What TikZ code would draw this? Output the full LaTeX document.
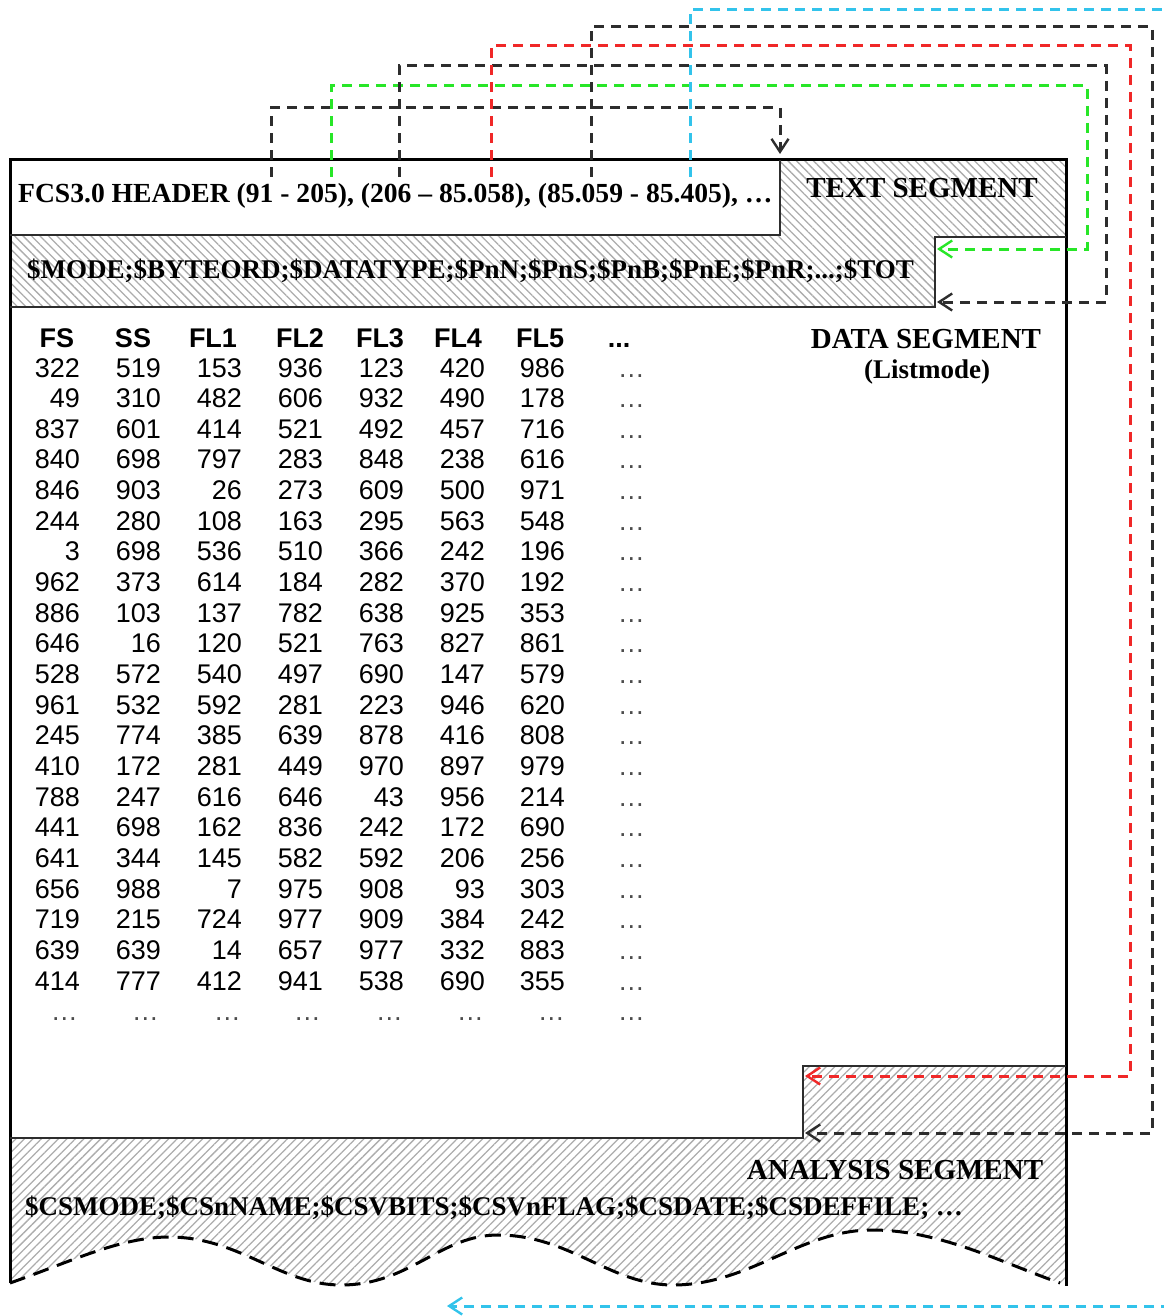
\documentclass[tikz,border=0pt]{standalone}
\usepackage{fontspec}
\setmainfont{Liberation Serif}
\newfontfamily\arialf{Liberation Sans}
\usetikzlibrary{arrows.meta,patterns.meta}
\definecolor{cgreen}{RGB}{40,230,40}
\definecolor{cred}{RGB}{240,40,40}
\definecolor{ccyan}{RGB}{50,195,235}
\definecolor{cdark}{RGB}{45,45,45}
\begin{document}
\begin{tikzpicture}[x=1pt,y=-1pt,
  conn/.style={line width=3pt, dash pattern=on 10pt off 7pt,
    -{Straight Barb[length=13pt,width=17pt,line width=2.4pt]}},
  frame/.style={line width=3pt, black},
  innerl/.style={line width=2pt, cdark},
  hatchA/.style={pattern={Lines[angle=-45,distance=6pt,line width=1.3pt]}, pattern color=gray!65},
  hatchB/.style={pattern={Lines[angle=45,distance=6pt,line width=1.3pt]}, pattern color=gray!65},
  lab/.style={font=\bfseries\fontsize{29}{32}\selectfont, inner sep=0pt},
  kw/.style={font=\bfseries\fontsize{27}{30}\selectfont, inner sep=0pt, anchor=west},
  num/.style={font=\arialf\fontsize{27}{30}\selectfont, inner sep=0pt, anchor=base east},
  ell/.style={text=black!70},
  hd/.style={font=\arialf\bfseries\fontsize{27}{30}\selectfont, inner sep=0pt, anchor=base},
]
\useasboundingbox (0,0) rectangle (1163,1316);

% hatched regions
\fill[hatchA] (780,160) -- (1066,160) -- (1066,237) -- (935,237) -- (935,307) -- (10,307) -- (10,235) -- (780,235) -- cycle;
\fill[hatchB] (803,1066) -- (1066,1066) -- (1066,1285) -- (1060,1283)
  .. controls (1000,1262) and (940,1230) .. (872,1230)
  .. controls (800,1230) and (750,1285) .. (673,1285)
  .. controls (610,1285) and (570,1235) .. (498,1235)
  .. controls (440,1235) and (410,1285) .. (341,1285)
  .. controls (280,1285) and (240,1237) .. (169,1237)
  .. controls (120,1237) and (70,1262) .. (10,1283)
  -- (10,1138) -- (803,1138) -- cycle;

% wavy bottom
\draw[line width=3pt, dash pattern=on 16pt off 9pt] (10,1283)
  .. controls (70,1262) and (120,1237) .. (169,1237)
  .. controls (240,1237) and (280,1285) .. (341,1285)
  .. controls (410,1285) and (440,1235) .. (498,1235)
  .. controls (570,1235) and (610,1285) .. (673,1285)
  .. controls (750,1285) and (800,1230) .. (872,1230)
  .. controls (940,1230) and (1000,1262) .. (1060,1283);

% frame and segment borders
\draw[frame] (10,1283) -- (10,160) -- (1066,160) -- (1066,1286);
\draw[innerl] (780,160) -- (780,235) -- (10,235);
\draw[innerl] (1066,237) -- (935,237) -- (935,307) -- (10,307);
\draw[innerl] (1066,1066) -- (803,1066) -- (803,1138) -- (10,1138);

% texts
\node[kw, font=\bfseries\fontsize{27.6}{30}\selectfont] (hdr) at (18,196) {FCS3.0 HEADER (91 - 205), (206 – 85.058), (85.059 - 85.405), …};
\node[kw] (txt) at (27,271) {\$MODE;\$BYTEORD;\$DATATYPE;\$PnN;\$PnS;\$PnB;\$PnE;\$PnR;...;\$TOT};
\node[lab] (ts) at (922,188) {TEXT SEGMENT};
\node[lab] (ds) at (926,339) {DATA SEGMENT};
\node[font=\bfseries\fontsize{27}{30}\selectfont, inner sep=0pt] (lm) at (927,372) {(Listmode)};
\node[lab] (as) at (895,1170) {ANALYSIS SEGMENT};
\node[kw] (an) at (25,1208) {\$CSMODE;\$CSnNAME;\$CSVBITS;\$CSVnFLAG;\$CSDATE;\$CSDEFFILE; …};

% table header
\node[hd] (hFS) at (57,347) {FS};
\node[hd] (hSS) at (133,347) {SS};
\node[hd] (hF1) at (213,347) {FL1};
\node[hd] (hF2) at (300,347) {FL2};
\node[hd] (hF3) at (380,347) {FL3};
\node[hd] (hF4) at (458,347) {FL4};
\node[hd] (hF5) at (540,347) {FL5};
\node[hd] (hEl) at (619,347) {...};

% table body
\def\colxs{{80,161,242,323,404,485,565}}
\foreach \row [count=\i from 0] in {
  {322,519,153,936,123,420,986},
  {49,310,482,606,932,490,178},
  {837,601,414,521,492,457,716},
  {840,698,797,283,848,238,616},
  {846,903,26,273,609,500,971},
  {244,280,108,163,295,563,548},
  {3,698,536,510,366,242,196},
  {962,373,614,184,282,370,192},
  {886,103,137,782,638,925,353},
  {646,16,120,521,763,827,861},
  {528,572,540,497,690,147,579},
  {961,532,592,281,223,946,620},
  {245,774,385,639,878,416,808},
  {410,172,281,449,970,897,979},
  {788,247,616,646,43,956,214},
  {441,698,162,836,242,172,690},
  {641,344,145,582,592,206,256},
  {656,988,7,975,908,93,303},
  {719,215,724,977,909,384,242},
  {639,639,14,657,977,332,883},
  {414,777,412,941,538,690,355}} {
  \foreach \v [count=\j from 0] in \row {
    \pgfmathsetmacro\cx{\colxs[\j]}
    \node[num] (v\i-\j) at (\cx,{377+30.65*\i}) {\v};
  }
  \node[num, ell] (e\i) at (645,{377+30.65*\i}) {…};
}
\foreach \cx [count=\j] in {78,159,241,321,403,484,565,645} {
  \node[num, ell] (last\j) at (\cx,{377+30.65*21}) {…};
}

% connector anchor points
\coordinate (s1) at (271,177); \coordinate (k1) at (780,108); \coordinate (t1) at (780,154);
\coordinate (s2) at (331,177); \coordinate (k2) at (1087,86); \coordinate (t2) at (937,249);
\coordinate (s3) at (399,177); \coordinate (k3) at (1106,66); \coordinate (t3) at (937,302);
\coordinate (s4) at (491,177); \coordinate (k4) at (1130,46); \coordinate (t4) at (805,1076);
\coordinate (s5) at (591,177); \coordinate (k5) at (1152,27); \coordinate (t5) at (805,1133);
\coordinate (s6) at (690,177); \coordinate (k6) at (1168,10); \coordinate (t6) at (447,1306);

\draw[conn, cdark] (s1) |- (k1) -- (t1);
\draw[conn, cgreen] (s2) |- (k2) |- (t2);
\draw[conn, cdark] (s3) |- (k3) |- (t3);
\draw[conn, cred] (s4) |- (k4) |- (t4);
\draw[conn, cdark] (s5) |- (k5) |- (t5);
\draw[conn, ccyan] (s6) |- (k6) |- (t6);
\end{tikzpicture}
\end{document}
